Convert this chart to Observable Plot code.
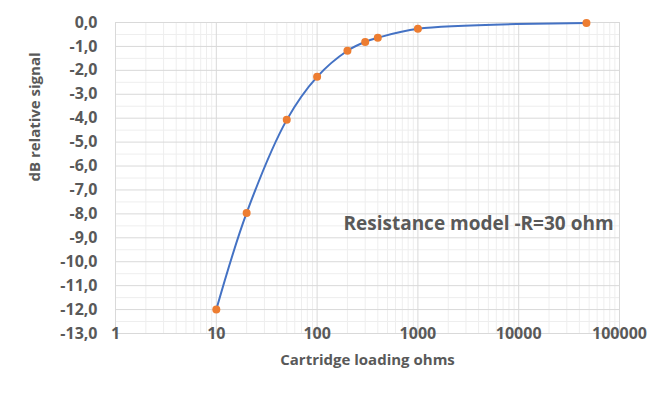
<!DOCTYPE html>
<html>
<head>
<meta charset="utf-8">
<script src="https://cdn.jsdelivr.net/npm/d3@7"></script>
<script src="https://cdn.jsdelivr.net/npm/@observablehq/plot@0.6"></script>
<style>
  html, body { margin: 0; padding: 0; background: #ffffff; }
  #chart { width: 658px; height: 399px; }
</style>
</head>
<body>
<div id="chart"></div>
<script>
// Data
const loadOhms = [10, 20, 50, 100, 200, 300, 400, 1000, 47000];
const dbSignal = [-12.0, -7.96, -4.07, -2.27, -1.18, -0.81, -0.64, -0.26, -0.02];

// Axis tick values
const xTicks = [1, 10, 100, 1000, 10000, 100000];
const yTicks = [0, -1, -2, -3, -4, -5, -6, -7, -8, -9, -10, -11, -12, -13];
const yMinorTicks = [-0.5, -1.5, -2.5, -3.5, -4.5, -5.5, -6.5, -7.5, -8.5, -9.5, -10.5, -11.5, -12.5];
const minorMultipliers = [2, 3, 4, 5, 6, 7, 8, 9];

// Texts
const xTitle = "Cartridge loading ohms";
const yTitle = "dB relative signal";
const annotation = "Resistance model -R=30 ohm";

const points = loadOhms.map((x, i) => ({x, y: dbSignal[i]}));
const xMinorTicks = xTicks.slice(0, -1).flatMap(d => minorMultipliers.map(m => d * m));

const textColor = "#595959";
const fmtY = v => v.toFixed(1).replace(".", ",");

const chart = Plot.plot({
  width: 658,
  height: 399,
  marginLeft: 115,
  marginRight: 39,
  marginTop: 22,
  marginBottom: 66,
  style: {fontFamily: "'Open Sans', sans-serif", fontSize: "16px", background: "#ffffff", color: textColor},
  x: {type: "log", domain: [1, 100000]},
  y: {domain: [-13, 0]},
  marks: [
    Plot.gridX(xMinorTicks, {stroke: "#eeeeee", strokeOpacity: 1, strokeWidth: 1}),
    Plot.gridY(yMinorTicks, {stroke: "#eeeeee", strokeOpacity: 1, strokeWidth: 1}),
    Plot.gridX(xTicks, {stroke: "#d9d9d9", strokeOpacity: 1, strokeWidth: 1}),
    Plot.gridY(yTicks, {stroke: "#d9d9d9", strokeOpacity: 1, strokeWidth: 1}),
    Plot.axisY({ticks: yTicks, tickSize: 0, tickPadding: 18, tickFormat: fmtY, label: null,
      fontSize: 16, fontWeight: "bold", fill: textColor}),
    Plot.axisX({ticks: xTicks, tickSize: 0, tickPadding: -6, tickFormat: d => String(d), label: null,
      fontSize: 16, fontWeight: "bold", fill: textColor}),
    Plot.line(points, {x: "x", y: "y", curve: "catmull-rom", stroke: "#4472C4", strokeWidth: 2}),
    Plot.dot(points, {x: "x", y: "y", r: 4, fill: "#ED7D31", stroke: "none"}),
    Plot.text([xTitle], {frameAnchor: "bottom", dy: 27, textAnchor: "middle", lineAnchor: "middle",
      fontSize: 15, fontWeight: "bold", fill: textColor}),
    Plot.text([yTitle], {frameAnchor: "left", rotate: -90, dx: -80, dy: -61, textAnchor: "middle", lineAnchor: "middle",
      fontSize: 15, fontWeight: "bold", fill: textColor}),
    Plot.text([annotation], {frameAnchor: "top-left", dx: 363, dy: 201, textAnchor: "middle", lineAnchor: "middle",
      fontSize: 19, fontWeight: "bold", fill: textColor})
  ]
});
document.getElementById("chart").appendChild(chart);
</script>
</body>
</html>
